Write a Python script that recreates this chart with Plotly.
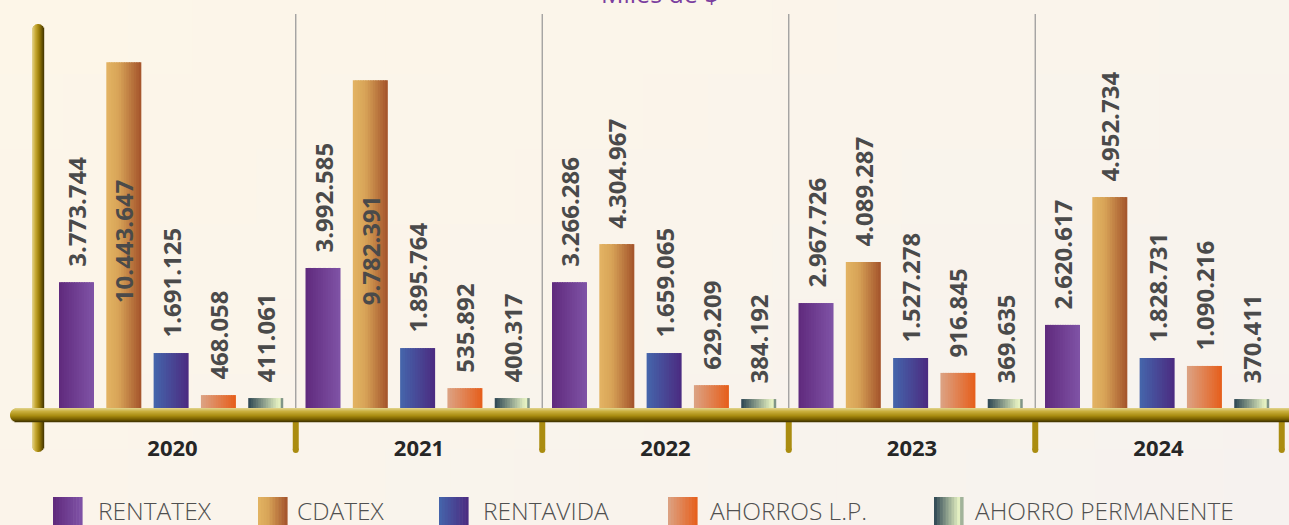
import math
import plotly.graph_objects as go

years = ['2020', '2021', '2022', '2023', '2024']
series = ['RENTATEX', 'CDATEX', 'RENTAVIDA', 'AHORROS L.P.', 'AHORRO PERMANENTE']

# valores de las etiquetas (miles de $)
rentatex = [3773744, 3992585, 3266286, 2967726, 2620617]
cdatex = [10443647, 9782391, 4304967, 4089287, 4952734]
rentavida = [1691125, 1895764, 1659065, 1527278, 1828731]
ahorros_lp = [468058, 535892, 629209, 916845, 1090216]
ahorro_perm = [411061, 400317, 384192, 369635, 370411]

# altura de cada barra tal como se ve en el grafico (misma escala)
alto_rentatex = [3.80e6, 4.23e6, 3.80e6, 3.17e6, 2.51e6]
alto_cdatex = [10.44e6, 9.90e6, 4.95e6, 4.41e6, 6.37e6]
alto_rentavida = [1.66e6, 1.81e6, 1.66e6, 1.51e6, 1.51e6]
alto_ahorros_lp = [0.39e6, 0.60e6, 0.69e6, 1.06e6, 1.27e6]
alto_ahorro_perm = [0.30e6, 0.30e6, 0.27e6, 0.27e6, 0.27e6]

labels = [rentatex, cdatex, rentavida, ahorros_lp, ahorro_perm]
heights = [alto_rentatex, alto_cdatex, alto_rentavida, alto_ahorros_lp, alto_ahorro_perm]

gradients = [
    [(0, '#5f2a7c'), (1, '#8053a7')],
    [(0, '#e3b463'), (0.35, '#d8a458'), (1, '#a3522a')],
    [(0, '#4566ac'), (1, '#4b2a80')],
    [(0, '#dca385'), (1, '#e65e1a')],
    [(0, '#2b4451'), (0.86, '#e5f1c2'), (0.92, '#e5f1c2'), (1, '#2f4b57')],
]


def hex2rgb(h):
    h = h.lstrip('#')
    return [int(h[i:i + 2], 16) for i in (0, 2, 4)]


def grad(stops, t):
    for (t0, c0), (t1, c1) in zip(stops[:-1], stops[1:]):
        if t <= t1:
            f = 0 if t1 == t0 else (t - t0) / (t1 - t0)
            a, b = hex2rgb(c0), hex2rgb(c1)
            return 'rgb(%d,%d,%d)' % tuple(round(a[i] + (b[i] - a[i]) * f) for i in range(3))
    return stops[-1][1]


def fmt(v):
    return f'{v:,}'.replace(',', '.')


W, H = 1289, 525
T, B = 14, 117
x0, x1 = -0.6998, 4.5294
ymax = 11.9e6


def px_x(px):
    return px / W


def px_y(py):
    return (H - B - py) / (H - T - B)


def data_px(x):
    return (x - x0) / (x1 - x0) * W


bar_w = 0.142
bar_step = 0.1919
first_left = -0.4604
N = 14

fig = go.Figure()

# barras con degradado (tiras)
for s in range(len(series)):
    left = first_left + s * bar_step
    xs, ys, offs, wids, cols = [], [], [], [], []
    for j in range(len(years)):
        for k in range(N):
            xs.append(j)
            ys.append(heights[s][j])
            offs.append(left + k * bar_w / N)
            wids.append(bar_w / N * (1.4 if k < N - 1 else 1.0))
            cols.append(grad(gradients[s], (k + 0.5) / N))
    fig.add_trace(go.Bar(x=xs, y=ys, offset=offs, width=wids,
                         marker=dict(color=cols, line=dict(width=0)),
                         showlegend=False, hoverinfo='skip', name=series[s]))

# etiquetas
for s in range(len(series)):
    left = first_left + s * bar_step
    inside = [h > 0.75 * ymax for h in heights[s]]
    pos = ['inside' if i else 'outside' for i in inside]
    txt = [fmt(v) + '\u00a0\u00a0' if i else '\u00a0\u00a0' + fmt(v) for v, i in zip(labels[s], inside)]
    fig.add_trace(go.Bar(
        x=list(range(len(years))), y=heights[s], offset=left, width=bar_w,
        marker=dict(color='rgba(0,0,0,0)', line=dict(width=0)),
        text=txt, textposition=pos,
        textangle=-90, insidetextanchor='middle', constraintext='none',
        textfont=dict(family='Open Sans', size=24, color='#4a4a4a', weight='bold'),
        cliponaxis=False, showlegend=False, name=series[s],
        customdata=labels[s], hovertemplate='%{customdata:,.0f}<extra>' + series[s] + '</extra>'))

shapes = []

# fondo con degradado suave
bg = [(0, '#fdf6e8'), (0.5, '#faf4eb'), (1, '#f6f2ef')]
nx, ny = 20, 7
for i in range(nx):
    for j in range(ny):
        t = ((i + 0.5) / nx * 0.6 + (j + 0.5) / ny * 0.4)
        shapes.append(dict(type='rect', xref='paper', yref='paper',
                           x0=px_x(i * W / nx - 1), x1=px_x((i + 1) * W / nx + 1),
                           y0=px_y((j + 1) * H / ny + 1), y1=px_y(j * H / ny - 1),
                           fillcolor=grad(bg, t), line=dict(width=0), layer='below'))

# separadores
for j in range(len(years) - 1):
    shapes.append(dict(type='line', xref='x', yref='paper', x0=j + 0.5, x1=j + 0.5, y0=0, y1=1,
                       line=dict(color='#9c9c9c', width=1.3), layer='below'))

# eje vertical dorado
vgrad = [(0, '#e4d592'), (0.3, '#c6a832'), (0.6, '#9a7c08'), (1, '#433500')]
vl, vr, vt, vb = 32, 44, 24, 452
r = (vr - vl) / 2
for c in range(vr - vl):
    d = abs(c + 0.5 - r)
    cut = r - math.sqrt(max(r * r - d * d, 0))
    shapes.append(dict(type='rect', xref='paper', yref='paper',
                       x0=px_x(vl + c), x1=px_x(vl + c + 1.2),
                       y0=px_y(vb - cut), y1=px_y(vt + cut),
                       fillcolor=grad(vgrad, (c + 0.5) / (vr - vl)), line=dict(width=0), layer='above'))

# marcas inferiores
for j in range(len(years)):
    px = data_px(j + 0.5)
    shapes.append(dict(type='line', xref='paper', yref='paper', x0=px_x(px), x1=px_x(px),
                       y0=px_y(420), y1=px_y(450), line=dict(color='#aa8c10', width=6), layer='above'))
    shapes.append(dict(type='circle', xref='paper', yref='paper', x0=px_x(px - 3), x1=px_x(px + 3),
                       y0=px_y(447), y1=px_y(453), fillcolor='#aa8c10', line=dict(width=0), layer='above'))

# eje horizontal dorado
hgrad = [(0, '#e2d48e'), (0.25, '#c9af3c'), (0.55, '#a88c10'), (0.8, '#786000'), (1, '#3c3000')]
ht, hb, hl = 408, 422, 10
r = (hb - ht) / 2
for c in range(hb - ht):
    d = abs(c + 0.5 - r)
    cut = r - math.sqrt(max(r * r - d * d, 0))
    shapes.append(dict(type='rect', xref='paper', yref='paper',
                       x0=px_x(hl + cut), x1=1.01,
                       y0=px_y(ht + c + 1.2), y1=px_y(ht + c),
                       fillcolor=grad(hgrad, (c + 0.5) / (hb - ht)), line=dict(width=0), layer='above'))

# leyenda
annotations = []
sw_left = [53, 258, 439, 668, 934]
tx_left = [96, 295, 481, 708, 973]
for s in range(len(series)):
    for k in range(10):
        shapes.append(dict(type='rect', xref='paper', yref='paper',
                           x0=px_x(sw_left[s] + k * 2.9), x1=px_x(sw_left[s] + (k + 1) * 2.9 + 0.6),
                           y0=px_y(527), y1=px_y(497),
                           fillcolor=grad(gradients[s], (k + 0.5) / 10), line=dict(width=0)))
    annotations.append(dict(text=series[s], xref='paper', yref='paper', x=px_x(tx_left[s]), y=px_y(510),
                            xanchor='left', yanchor='middle', showarrow=False,
                            font=dict(family='Open Sans', size=24.5, color='#505050', weight=300)))

annotations.append(dict(text='Miles de $', xref='paper', yref='paper', x=px_x(660), y=px_y(12),
                        xanchor='center', yanchor='bottom', showarrow=False,
                        font=dict(family='Open Sans', size=25, color='#7b3fa0')))

fig.update_layout(
    width=W, height=H,
    margin=dict(l=0, r=0, t=T, b=B),
    paper_bgcolor='#fbf5ea', plot_bgcolor='rgba(0,0,0,0)',
    barmode='overlay', separators=',.',
    showlegend=False,
    shapes=shapes, annotations=annotations,
    xaxis=dict(range=[x0, x1], tickvals=list(range(len(years))), ticktext=years,
               showgrid=False, zeroline=False, showline=False, ticks='',
               ticklabelstandoff=25,
               tickfont=dict(family='Open Sans', size=22, color='#262626', weight='bold')),
    yaxis=dict(range=[0, ymax], visible=False, showgrid=False, zeroline=False),
)

fig.write_html('out.html', config={'displayModeBar': False},
               post_script="document.body.style.margin='0';")
